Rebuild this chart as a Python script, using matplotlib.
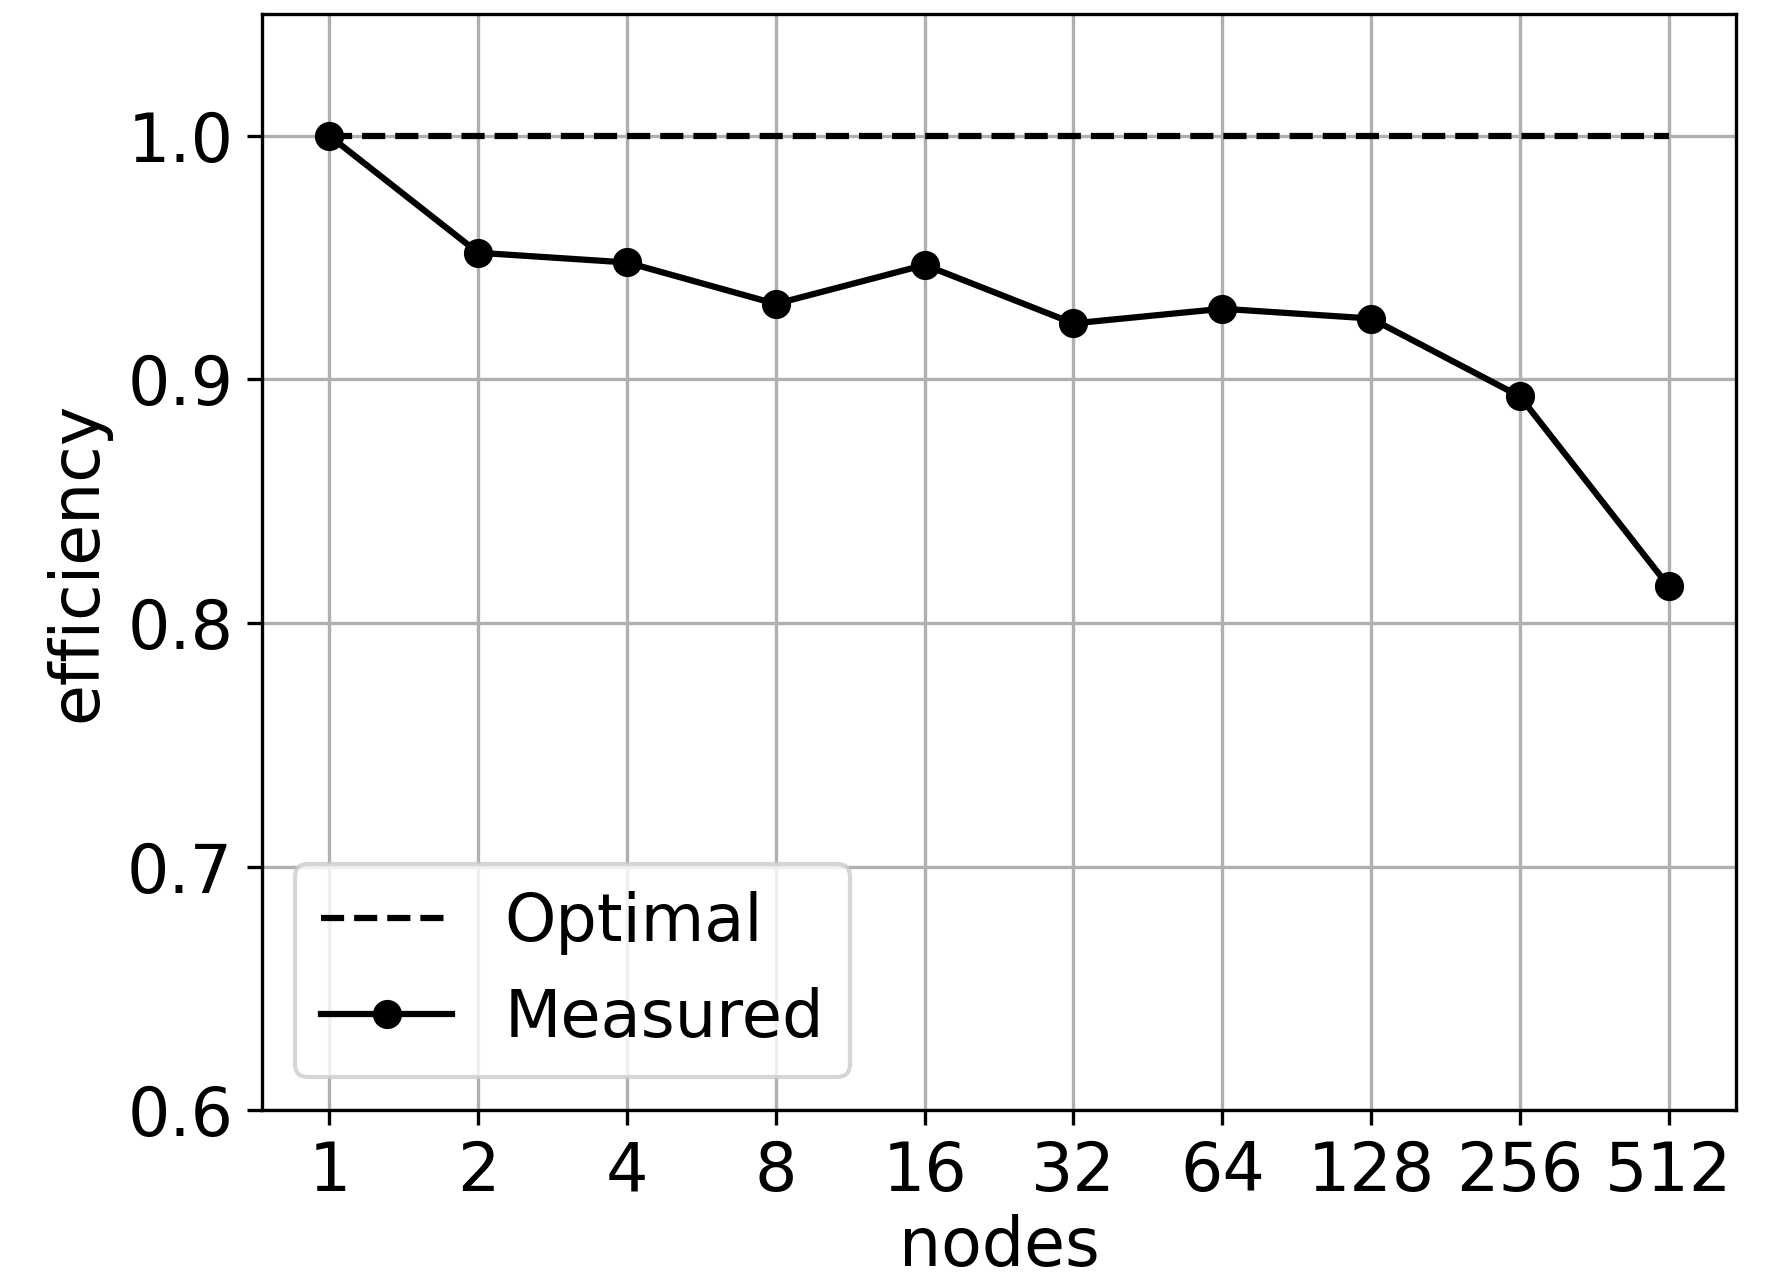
import matplotlib
matplotlib.use("Agg")
import matplotlib.pyplot as plt

nodes = [1, 2, 4, 8, 16, 32, 64, 128, 256, 512]
measured = [1.0, 0.952, 0.948, 0.931, 0.947, 0.923, 0.929, 0.925, 0.893, 0.815]
optimal = [1.0] * len(nodes)
yticks = [0.6, 0.7, 0.8, 0.9, 1.0]

plt.rcParams['font.size'] = 16
fig = plt.figure(figsize=(1773 / 300, 1276 / 300), dpi=300)
ax = fig.add_axes([0.148, 0.130, 0.831, 0.859])
pos = list(range(len(nodes)))
ax.plot(pos, optimal, 'k--', label='Optimal')
ax.plot(pos, measured, 'k-o', label='Measured')
ax.set_xticks(pos)
ax.set_xticklabels([str(n) for n in nodes])
ax.set_yticks(yticks)
ax.set_ylim(0.6, 1.05)
ax.set_xlabel('nodes', labelpad=2)
ax.set_ylabel('efficiency')
ax.grid(True)
ax.legend(loc='lower left', fontsize=15.7)
fig.savefig('out.png', dpi=300)
